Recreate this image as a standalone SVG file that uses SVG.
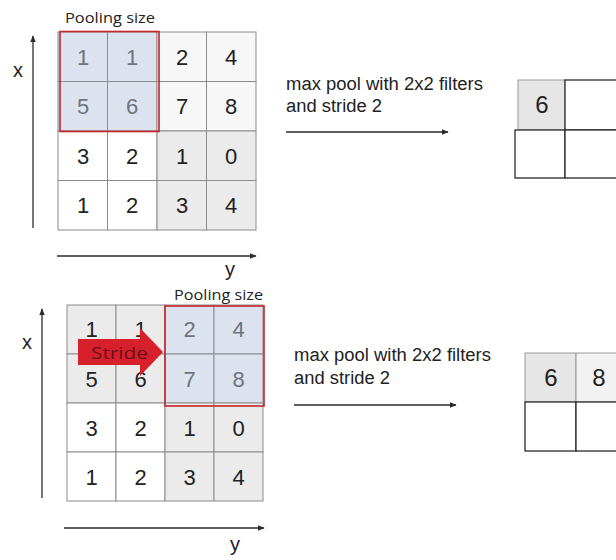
<svg xmlns="http://www.w3.org/2000/svg" width="616" height="560" viewBox="0 0 616 560">
<defs>
<marker id="ah" viewBox="0 0 10 10" refX="9" refY="5" markerWidth="7" markerHeight="7" orient="auto" markerUnits="userSpaceOnUse">
<path d="M0,1 L10,5 L0,9 z" fill="#2a2a2a"/>
</marker>
<style>
.num{font-family:"Liberation Sans",Arial,sans-serif;font-size:22px;fill:#222;text-anchor:middle}
.numb{font-family:"Liberation Sans",Arial,sans-serif;font-size:22px;fill:#6f737c;text-anchor:middle}
.onum{font-family:"Liberation Sans",Arial,sans-serif;font-size:24px;fill:#222;text-anchor:middle}
.lbl{font-family:"Liberation Sans",Arial,sans-serif;font-size:18px;fill:#222}
.ax{font-family:"Liberation Sans",Arial,sans-serif;font-size:20px;fill:#222;text-anchor:middle}
.ps{font-family:"Open Sans","Liberation Sans",sans-serif;font-size:14px;fill:#222}
.cell{stroke:#8c8c8c;stroke-width:1}
.w{fill:#ffffff}
.lw{fill:#f7f7f7}
.g{fill:#ebebeb}
.b{fill:#dde2ef}
.red{fill:none;stroke:#c4262e;stroke-width:1.6}
.out{stroke:#2a2a2a;stroke-width:1.3}
.conn{stroke:#2a2a2a;stroke-width:1.3;fill:none;marker-end:url(#ah)}
</style>
</defs>
<rect width="616" height="560" fill="#ffffff"/>

<g id="connectors">
<line class="conn" x1="33" y1="228" x2="33" y2="36"/>
<line class="conn" x1="57" y1="256" x2="256" y2="256"/>
<line class="conn" x1="286" y1="132" x2="448" y2="132"/>
<line class="conn" x1="42" y1="498" x2="42" y2="309"/>
<line class="conn" x1="64" y1="528" x2="264" y2="528"/>
<line class="conn" x1="294" y1="405" x2="456" y2="405"/>
</g>

<g id="top-axes">
<text class="ax" x="18" y="77">x</text>
<text class="ax" x="230" y="276">y</text>
</g>

<g id="top-grid">
<rect class="cell b" x="58" y="32" width="49.5" height="49.5"/>
<rect class="cell b" x="107.5" y="32" width="49.5" height="49.5"/>
<rect class="cell lw" x="157" y="32" width="49.5" height="49.5"/>
<rect class="cell lw" x="206.5" y="32" width="49.5" height="49.5"/>
<rect class="cell b" x="58" y="81.5" width="49.5" height="49.5"/>
<rect class="cell b" x="107.5" y="81.5" width="49.5" height="49.5"/>
<rect class="cell lw" x="157" y="81.5" width="49.5" height="49.5"/>
<rect class="cell lw" x="206.5" y="81.5" width="49.5" height="49.5"/>
<rect class="cell w" x="58" y="131" width="49.5" height="49.5"/>
<rect class="cell w" x="107.5" y="131" width="49.5" height="49.5"/>
<rect class="cell g" x="157" y="131" width="49.5" height="49.5"/>
<rect class="cell g" x="206.5" y="131" width="49.5" height="49.5"/>
<rect class="cell w" x="58" y="180.5" width="49.5" height="49.5"/>
<rect class="cell w" x="107.5" y="180.5" width="49.5" height="49.5"/>
<rect class="cell g" x="157" y="180.5" width="49.5" height="49.5"/>
<rect class="cell g" x="206.5" y="180.5" width="49.5" height="49.5"/>
<text class="numb" x="83" y="65">1</text>
<text class="numb" x="132" y="65">1</text>
<text class="num" x="182" y="65">2</text>
<text class="num" x="231" y="65">4</text>
<text class="numb" x="83" y="114">5</text>
<text class="numb" x="132" y="114">6</text>
<text class="num" x="182" y="114">7</text>
<text class="num" x="231" y="114">8</text>
<text class="num" x="83" y="164">3</text>
<text class="num" x="132" y="164">2</text>
<text class="num" x="182" y="164">1</text>
<text class="num" x="231" y="164">0</text>
<text class="num" x="83" y="213">1</text>
<text class="num" x="132" y="213">2</text>
<text class="num" x="182" y="213">3</text>
<text class="num" x="231" y="213">4</text>
</g>

<g id="top-pool-window">
<rect class="red" x="60" y="31.5" width="99" height="100"/>
<text class="ps" x="65" y="23" textLength="90" lengthAdjust="spacingAndGlyphs">Pooling size</text>
</g>

<g id="top-label">
<text class="lbl" x="286" y="90" textLength="197" lengthAdjust="spacingAndGlyphs">max pool with 2x2 filters</text>
<text class="lbl" x="286" y="112" textLength="96" lengthAdjust="spacingAndGlyphs">and stride 2</text>
</g>

<g id="top-output">
<rect x="518" y="80" width="47" height="50" fill="#e6e6e6" stroke="#9a9a9a" stroke-width="1"/>
<rect class="out" x="565" y="80" width="70" height="50" fill="#ffffff"/>
<rect class="out" x="515" y="130" width="50" height="48" fill="#ffffff"/>
<rect class="out" x="565" y="130" width="70" height="48" fill="#ffffff"/>
<text class="onum" x="542" y="113">6</text>
</g>

<g id="bottom-axes">
<text class="ax" x="27" y="349">x</text>
<text class="ax" x="235" y="551">y</text>
</g>

<g id="bottom-grid">
<rect class="cell g" x="67" y="305" width="49" height="49"/>
<rect class="cell g" x="116" y="305" width="49" height="49"/>
<rect class="cell b" x="165" y="305" width="49" height="49"/>
<rect class="cell b" x="214" y="305" width="49" height="49"/>
<rect class="cell g" x="67" y="354" width="49" height="49"/>
<rect class="cell g" x="116" y="354" width="49" height="49"/>
<rect class="cell b" x="165" y="354" width="49" height="49"/>
<rect class="cell b" x="214" y="354" width="49" height="49"/>
<rect class="cell w" x="67" y="403" width="49" height="49"/>
<rect class="cell w" x="116" y="403" width="49" height="49"/>
<rect class="cell g" x="165" y="403" width="49" height="49"/>
<rect class="cell g" x="214" y="403" width="49" height="49"/>
<rect class="cell w" x="67" y="452" width="49" height="49"/>
<rect class="cell w" x="116" y="452" width="49" height="49"/>
<rect class="cell g" x="165" y="452" width="49" height="49"/>
<rect class="cell g" x="214" y="452" width="49" height="49"/>
<text class="num" x="91.5" y="337">1</text>
<text class="num" x="140.5" y="337">1</text>
<text class="numb" x="189.5" y="337">2</text>
<text class="numb" x="238.5" y="337">4</text>
<text class="num" x="91.5" y="387">5</text>
<text class="num" x="140.5" y="387">6</text>
<text class="numb" x="189.5" y="387">7</text>
<text class="numb" x="238.5" y="387">8</text>
<text class="num" x="91.5" y="436">3</text>
<text class="num" x="140.5" y="436">2</text>
<text class="num" x="189.5" y="436">1</text>
<text class="num" x="238.5" y="436">0</text>
<text class="num" x="91.5" y="485">1</text>
<text class="num" x="140.5" y="485">2</text>
<text class="num" x="189.5" y="485">3</text>
<text class="num" x="238.5" y="485">4</text>
</g>

<g id="bottom-pool-window">
<rect class="red" x="165" y="306" width="99" height="100"/>
<text class="ps" x="174" y="300" textLength="89" lengthAdjust="spacingAndGlyphs">Pooling size</text>
</g>

<g id="stride-arrow">
<path d="M78,339 L140,339 L140,328 L163,352 L140,376 L140,365 L78,365 Z" fill="#d8202c"/>
<text x="91" y="359" font-family="'Open Sans','Liberation Sans',sans-serif" font-size="17" fill="#6a0f16" textLength="57" lengthAdjust="spacingAndGlyphs">Stride</text>
</g>

<g id="bottom-label">
<text class="lbl" x="294" y="361" textLength="197" lengthAdjust="spacingAndGlyphs">max pool with 2x2 filters</text>
<text class="lbl" x="294" y="384" textLength="96" lengthAdjust="spacingAndGlyphs">and stride 2</text>
</g>

<g id="bottom-output">
<rect x="525" y="353" width="51" height="49" fill="#e6e6e6" stroke="#9a9a9a" stroke-width="1"/>
<rect x="576" y="353" width="60" height="49" fill="#f2f2f2" stroke="#9a9a9a" stroke-width="1"/>
<rect class="out" x="525" y="402" width="51" height="49" fill="#ffffff"/>
<rect class="out" x="576" y="402" width="60" height="49" fill="#ffffff"/>
<text class="onum" x="551" y="386">6</text>
<text class="onum" x="599" y="386">8</text>
</g>
</svg>
